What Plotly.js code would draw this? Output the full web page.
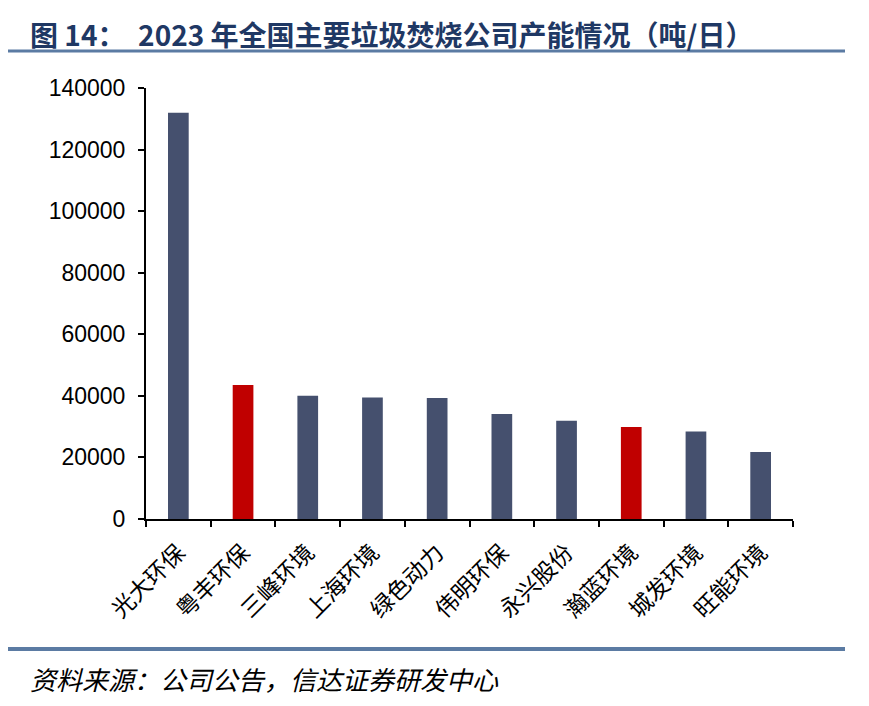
<!DOCTYPE html>
<html><head><meta charset="utf-8">
<script src="https://cdn.plot.ly/plotly-3.0.1.min.js"></script>
<style>html,body{margin:0;padding:0;background:#fff;}#chart{width:869px;height:706px;}</style>
</head><body><div id="chart"></div>
<script>
const companies = ["光大环保","粤丰环保","三峰环境","上海环境","绿色动力","伟明环保","永兴股份","瀚蓝环境","城发环境","旺能环境"];
const capacity = [132000, 43500, 40000, 39500, 39300, 34100, 31900, 29900, 28400, 21800];
const highlighted = ["粤丰环保","瀚蓝环境"];
const yTicks = [0,20000,40000,60000,80000,100000,120000,140000];

const navy = "#45506e", red = "#c00000";
const L = 146, R = 793, T = 88, B = 519;
const px2x = p => (p - L) / (R - L);
const px2y = p => (B - p) / (B - T);
const cjk = '"Noto Sans CJK SC", "Liberation Sans", sans-serif';

const trace = {
  type: "bar", x: companies, y: capacity,
  marker: { color: companies.map(c => highlighted.includes(c) ? red : navy) },
  hoverinfo: "x+y"
};

const layout = {
  width: 869, height: 706,
  margin: { l: L, r: 869 - R, t: T, b: 706 - B },
  paper_bgcolor: "#ffffff", plot_bgcolor: "#ffffff",
  showlegend: false,
  bargap: 0.68,
  xaxis: {
    type: "category", showgrid: false, zeroline: false,
    showline: true, linecolor: "#000", linewidth: 2,
    ticks: "outside", ticklen: 6, tickwidth: 2, tickcolor: "#000",
    tickson: "boundaries", tickangle: -45,
    ticklabelstandoff: 9,
    tickfont: { family: cjk, size: 23, color: "#000" }
  },
  yaxis: {
    range: [0, 140000], tickvals: yTicks, ticktext: yTicks.map(String),
    showgrid: false, zeroline: false,
    showline: true, linecolor: "#000", linewidth: 2,
    ticks: "outside", ticklen: 6, tickwidth: 2, tickcolor: "#000",
    ticklabelstandoff: 8,
    tickfont: { family: '"Liberation Sans", Arial, sans-serif', size: 23, color: "#000" }
  },
  shapes: [
    { type: "line", xref: "paper", yref: "paper", x0: px2x(8), x1: px2x(845), y0: px2y(51), y1: px2y(51), line: { color: "#5b7ba3", width: 3 } },
    { type: "line", xref: "paper", yref: "paper", x0: px2x(8), x1: px2x(845), y0: px2y(649), y1: px2y(649), line: { color: "#5b7ba3", width: 4 } }
  ],
  annotations: [
    { xref: "paper", yref: "paper", x: px2x(28), y: px2y(34), xanchor: "left", yanchor: "middle", showarrow: false,
      text: "<b>图 14：  2023 年全国主要垃圾焚烧公司产能情况（吨/日）</b>",
      font: { family: cjk, size: 28, color: "#1f3864" } },
    { xref: "paper", yref: "paper", x: px2x(28), y: px2y(678), xanchor: "left", yanchor: "middle", showarrow: false,
      text: "资料来源：公司公告，信达证券研发中心",
      font: { family: cjk, size: 26, color: "#000", style: "italic" } }
  ]
};

Plotly.newPlot("chart", [trace], layout, { displayModeBar: false, staticPlot: true });
</script></body></html>
